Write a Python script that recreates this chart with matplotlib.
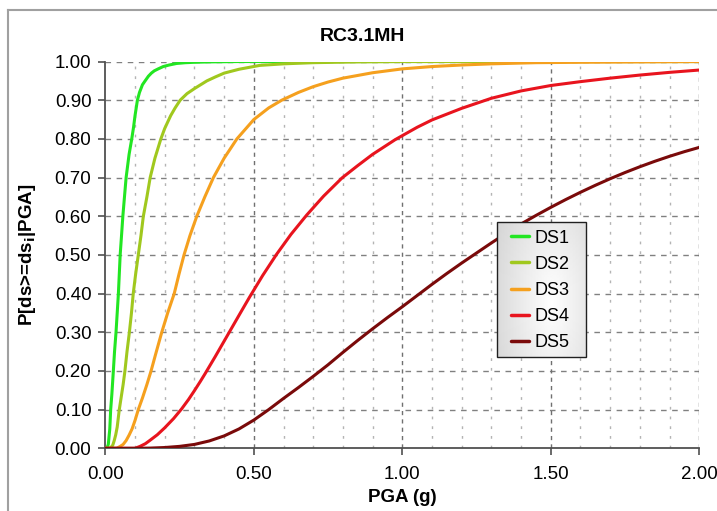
import numpy as np
import matplotlib
matplotlib.use('Agg')
import matplotlib.pyplot as plt
from matplotlib.lines import Line2D
from matplotlib.patches import Rectangle

plt.rcParams['font.family'] = ['Liberation Sans', 'DejaVu Sans']

# ---------------------------------------------------------------
# Date (PGA in g, probabilitate de depasire)
# ---------------------------------------------------------------
pga_ds1 = [0.0, 0.005, 0.01, 0.015, 0.018, 0.022, 0.027, 0.031, 0.036, 0.04, 0.044, 0.05,
           0.055, 0.059, 0.065, 0.07, 0.075, 0.08, 0.089, 0.095, 0.1, 0.108, 0.115, 0.125,
           0.134, 0.145, 0.155, 0.165, 0.178, 0.195, 0.215, 0.24, 0.27, 0.3, 0.35, 0.45, 2.0]
p_ds1 = [0.0, 0.0, 0.01, 0.05, 0.1, 0.14, 0.2, 0.25, 0.3, 0.35, 0.4, 0.5,
         0.555, 0.6, 0.655, 0.7, 0.73, 0.76, 0.8, 0.83, 0.86, 0.9, 0.92, 0.94,
         0.95, 0.962, 0.97, 0.976, 0.981, 0.987, 0.991, 0.995, 0.997, 0.998, 0.999, 1.0, 1.0]

pga_ds2 = [0.0, 0.016, 0.025, 0.03, 0.035, 0.04, 0.047, 0.055, 0.06, 0.066, 0.073, 0.081,
           0.088, 0.094, 0.102, 0.111, 0.12, 0.128, 0.14, 0.151, 0.167, 0.187, 0.2, 0.22,
           0.235, 0.252, 0.275, 0.3, 0.342, 0.37, 0.4, 0.45, 0.52, 0.6, 0.7, 0.85, 1.0, 2.0]
p_ds2 = [0.0, 0.0, 0.008, 0.02, 0.035, 0.055, 0.1, 0.14, 0.165, 0.2, 0.25, 0.3,
         0.35, 0.4, 0.45, 0.5, 0.55, 0.6, 0.65, 0.7, 0.75, 0.8, 0.827, 0.86,
         0.88, 0.9, 0.917, 0.93, 0.95, 0.96, 0.97, 0.98, 0.99, 0.994, 0.997, 0.999, 1.0, 1.0]

pga_ds3 = [0.0, 0.038, 0.05, 0.06, 0.07, 0.08, 0.09, 0.1, 0.111, 0.125, 0.14, 0.154,
           0.17, 0.19, 0.21, 0.232, 0.248, 0.265, 0.285, 0.308, 0.335, 0.364, 0.4, 0.443,
           0.5, 0.55, 0.594, 0.65, 0.7, 0.75, 0.8, 0.9, 1.0, 1.1, 1.2, 1.3, 1.45, 1.6, 1.8, 2.0]
p_ds3 = [0.0, 0.0, 0.005, 0.01, 0.02, 0.034, 0.05, 0.072, 0.1, 0.13, 0.165, 0.2,
         0.245, 0.3, 0.35, 0.4, 0.45, 0.5, 0.55, 0.6, 0.65, 0.7, 0.75, 0.8,
         0.85, 0.88, 0.9, 0.92, 0.935, 0.947, 0.957, 0.971, 0.981, 0.987, 0.991, 0.994,
         0.997, 0.998, 0.999, 1.0]

pga_ds4 = [0.0, 0.1, 0.117, 0.135, 0.151, 0.175, 0.2, 0.23, 0.257, 0.28, 0.3, 0.32,
           0.336, 0.37, 0.4, 0.43, 0.454, 0.485, 0.53, 0.577, 0.625, 0.678, 0.735, 0.797,
           0.85, 0.9, 0.976, 1.05, 1.1, 1.2, 1.3, 1.4, 1.5, 1.6, 1.7, 1.8, 1.9, 2.0]
p_ds4 = [0.0, 0.0, 0.005, 0.012, 0.021, 0.035, 0.053, 0.077, 0.102, 0.126, 0.149, 0.173,
         0.193, 0.237, 0.277, 0.317, 0.349, 0.39, 0.447, 0.502, 0.553, 0.603, 0.652, 0.699,
         0.731, 0.76, 0.798, 0.83, 0.849, 0.879, 0.905, 0.924, 0.938, 0.948, 0.957,
         0.965, 0.972, 0.978]

pga_ds5 = [0.0, 0.1, 0.15, 0.2, 0.25, 0.3, 0.35, 0.4, 0.45, 0.5, 0.55, 0.6, 0.65, 0.7,
           0.75, 0.8, 0.85, 0.9, 0.95, 1.0, 1.05, 1.1, 1.15, 1.2, 1.25, 1.3, 1.35, 1.4,
           1.45, 1.5, 1.55, 1.6, 1.65, 1.7, 1.75, 1.8, 1.85, 1.9, 1.95, 2.0]
p_ds5 = [0.0, 0.0, 0.0005, 0.002, 0.005, 0.01, 0.019, 0.032, 0.05, 0.073, 0.1, 0.129,
         0.157, 0.186, 0.216, 0.248, 0.279, 0.309, 0.338, 0.366, 0.395, 0.424, 0.452, 0.479,
         0.505, 0.531, 0.556, 0.58, 0.602, 0.623, 0.643, 0.662, 0.68, 0.697, 0.713,
         0.728, 0.742, 0.755, 0.767, 0.778]

etichete = ['DS1', 'DS2', 'DS3', 'DS4', 'DS5']
culori = ['#22e622', '#a0c81e', '#f5a01e', '#e8141e', '#7a0a0a']

x_ticks = [0.0, 0.5, 1.0, 1.5, 2.0]
y_ticks = [0.0, 0.1, 0.2, 0.3, 0.4, 0.5, 0.6, 0.7, 0.8, 0.9, 1.0]

# ---------------------------------------------------------------
# Figura
# ---------------------------------------------------------------
fig = plt.figure(figsize=(7.17, 5.11), dpi=100)
ax = fig.add_axes([0.1469, 0.1227, 0.8284, 0.7569])

# grila: orizontal la 0.1, vertical minor la 0.1, vertical major la 0.5
for yv in y_ticks[1:]:
    ax.axhline(yv, color='#808080', lw=1.0, dashes=(4, 4), zorder=1)
for xv in np.arange(0.1, 2.01, 0.1):
    if abs(xv / 0.5 - round(xv / 0.5)) < 1e-6:
        ax.axvline(xv, color='#707070', lw=1.0, dashes=(3, 3), zorder=1)
    else:
        ax.axvline(xv, color='#b4b4b4', lw=1.0, dashes=(2, 5), zorder=1)

curbe = [(pga_ds1, p_ds1), (pga_ds2, p_ds2), (pga_ds3, p_ds3), (pga_ds4, p_ds4), (pga_ds5, p_ds5)]
for (xs, ys), lab, c in zip(curbe, etichete, culori):
    ax.plot(xs, ys, color=c, lw=2.2, label=lab, zorder=3,
            solid_capstyle='round', solid_joinstyle='round')

ax.set_xlim(0, 2.0)
ax.set_ylim(0, 1.0)
ax.set_xticks(x_ticks)
ax.set_yticks(y_ticks)
ax.set_xticklabels(['{:.2f}'.format(v) for v in x_ticks])
ax.set_yticklabels(['{:.2f}'.format(v) for v in y_ticks])
ax.tick_params(axis='both', labelsize=13.5, length=5, width=1.2, color='#505050', direction='out')
ax.tick_params(axis='x', pad=8)
ax.tick_params(axis='y', pad=5)

for s in ['top', 'right']:
    ax.spines[s].set_visible(False)
for s in ['left', 'bottom']:
    ax.spines[s].set_color('#505050')
    ax.spines[s].set_linewidth(1.3)

ax.set_xlabel('PGA (g)', fontsize=13.5, fontweight='bold', labelpad=4)
ax.set_ylabel(r'P[ds>=ds$_\mathbf{i}$|PGA]', fontsize=13.5, fontweight='bold', labelpad=12)
fig.text(0.506, 0.9295, 'RC3.1MH', fontsize=14, fontweight='bold', ha='center', va='center')

# legenda: chenar propriu cu degrade, apoi intrarile fara chenar
lx0, lx1, ly0, ly1 = 0.66, 0.809, 0.237, 0.586
gx, gy = np.meshgrid(np.linspace(0, 1, 60), np.linspace(0, 1, 90))
dist = np.sqrt(((gx - 0.62) / 0.75) ** 2 + ((gy - 0.6) / 1.2) ** 2)
grad = 1.0 - 0.17 * np.clip(dist, 0, 1)
ax.imshow(grad, cmap='gray', vmin=0, vmax=1, extent=[lx0, lx1, ly0, ly1],
          transform=ax.transAxes, aspect='auto', zorder=4.5, interpolation='bilinear')
ax.add_patch(Rectangle((lx0, ly0), lx1 - lx0, ly1 - ly0, transform=ax.transAxes,
                       fill=False, edgecolor='#202020', lw=1.0, zorder=4.6))

leg = ax.legend(loc='upper left', bbox_to_anchor=(0.683, 0.565), borderaxespad=0,
                fontsize=13, handlelength=1.0, handletextpad=0.3, labelspacing=0.5,
                borderpad=0.0, frameon=False)
leg.set_zorder(5)
for h in leg.get_lines():
    h.set_linewidth(2.5)

ax.set_xlim(0, 2.0)
ax.set_ylim(0, 1.0)

# chenarul graficului
fig.add_artist(Line2D([8 / 717, 8 / 717], [0, 1 - 10 / 511], color='#a0a0a0', lw=1.5))
fig.add_artist(Line2D([8 / 717, 1], [1 - 10 / 511, 1 - 10 / 511], color='#a0a0a0', lw=1.5))

plt.savefig('out.png', dpi=100)
